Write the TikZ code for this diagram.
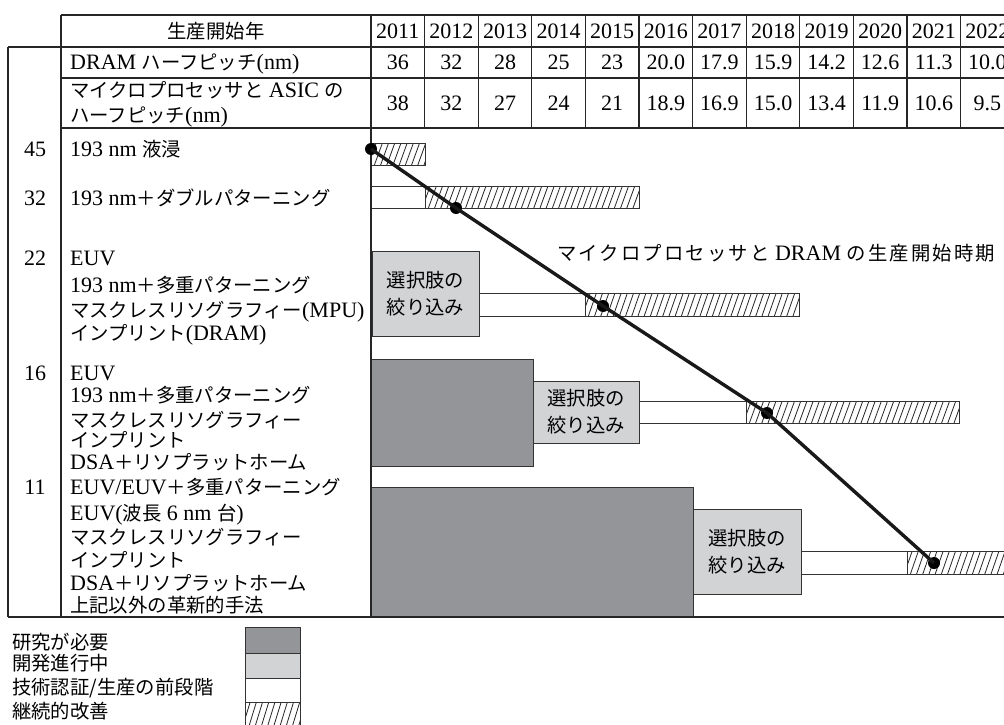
\documentclass[tikz,border=0pt]{standalone}
\usepackage{fontspec}
\setmainfont{Liberation Serif}
\newfontfamily\jp[Scale=0.88]{Noto Sans CJK JP}
\newfontfamily\jpw[Scale=0.88,LetterSpace=11]{Noto Sans CJK JP}
\newcommand\J[1]{{\jp #1}}
\definecolor{dk}{RGB}{148,149,153}
\definecolor{lt}{RGB}{210,211,213}
\tikzset{
 tl/.style={line width=1.1pt, draw=black!85},
 lbl/.style={anchor=base west, inner sep=0pt, font=\fontsize{22}{26}\selectfont},
 num/.style={anchor=base, inner sep=0pt, font=\fontsize{22}{26}\selectfont},
 barline/.style={draw=black!80, line width=0.8pt},
 hline/.style={line width=0.8pt, draw=black!85},
 darkbox/.style={draw=black!80, line width=0.8pt, fill=dk},
 choice/.style={draw=black!80, line width=0.8pt, fill=lt, align=center, inner sep=0pt, font=\fontsize{22}{27}\selectfont\jp},
 dot/.style={circle, fill=black, inner sep=0pt, minimum size=12pt},
 trend/.style={line width=3.4pt, draw=black!90}
}
\newcommand\hatchbar[4]{%
 \begin{scope}
 \clip (#1,#2) rectangle (#3,#4);
 \pgfmathtruncatemacro\hn{(#3-#1+14)/6.2}
 \foreach \k in {0,...,\hn}{\draw[hline] ({#1-9+\k*6.2},#4) -- ({#1-1+\k*6.2},#2);}
 \end{scope}
 \draw[barline] (#1,#2) rectangle (#3,#4);}
\begin{document}
\begin{tikzpicture}[x=1pt,y=-1pt]
\useasboundingbox (0,0) rectangle (1004,725);
\clip (0,0) rectangle (1004,725);
\fill[white] (0,0) rectangle (1004,725);

% dark boxes
\draw[darkbox] (371,359) rectangle (533,466);
\draw[darkbox] (371,487) rectangle (693,617);

% bars
\hatchbar{371}{143}{425}{165}
\draw[barline, fill=white] (371,186) rectangle (425,208);
\hatchbar{425}{186}{639}{208}
\draw[barline, fill=white] (479,293) rectangle (585,316);
\hatchbar{585}{293}{799}{316}
\draw[barline, fill=white] (639,401) rectangle (746,423);
\hatchbar{746}{401}{959}{423}
\draw[barline, fill=white] (801,551) rectangle (907,574);
\hatchbar{907}{551}{1014}{574}

% table lines
\draw[tl] (61,15) -- (1014,15);
\draw[tl] (8,47) -- (1014,47);
\draw[tl] (61,78) -- (1014,78);
\draw[tl] (61,128) -- (1014,128);
\draw[tl] (8,617) -- (1014,617);
\draw[tl] (8,47) -- (8,617);
\draw[tl] (61,15) -- (61,617);
\draw[tl] (371,15) -- (371,617);
\foreach \k in {1,...,12} \draw[tl] ({371+53.6*\k},15) -- ({371+53.6*\k},128);

% header
\node[num] (hdr) at (216,38.5) {\J{生産開始年}};
\foreach \yr [count=\k from 0] in {2011,2012,2013,2014,2015,2016,2017,2018,2019,2020,2021,2022}
  \node[num] (yr\k) at ({371+53.6*(\k+0.5)},38.5) {\yr};
\foreach \v [count=\k from 0] in {36,32,28,25,23,20.0,17.9,15.9,14.2,12.6,11.3,10.0}
  \node[num] (dr\k) at ({371+53.6*(\k+0.5)},69.5) {\v};
\foreach \v [count=\k from 0] in {38,32,27,24,21,18.9,16.9,15.0,13.4,11.9,10.6,9.5}
  \node[num] (mp\k) at ({371+53.6*(\k+0.5)},110.5) {\v};
\node[lbl] (r1) at (70,69.5) {DRAM \J{ハーフピッチ}(nm)};
\node[lbl] (r2a) at (70,97.5) {\J{マイクロプロセッサと} ASIC \J{の}};
\node[lbl] (r2b) at (70,122.5) {\J{ハーフピッチ}(nm)};

% left numbers
\node[num] (n45) at (35,156.5) {45};
\node[num] (n32) at (35,205.5) {32};
\node[num] (n22) at (35,265.5) {22};
\node[num] (n16) at (35,380.5) {16};
\node[num] (n11) at (35,494.5) {11};

% labels
\node[lbl] (a1) at (70,156.5) {193 nm \J{液浸}};
\node[lbl] (b1) at (70,205.5) {193 nm\J{＋ダブルパターニング}};
\node[lbl] (c1) at (70,265.5) {EUV};
\node[lbl] (c2) at (70,292.5) {193 nm\J{＋多重パターニング}};
\node[lbl] (c3) at (70,317.5) {\J{マスクレスリソグラフィー}(MPU)};
\node[lbl] (c4) at (70,340) {\J{インプリント}(DRAM)};
\node[lbl] (e1) at (70,380.5) {EUV};
\node[lbl] (e2) at (70,402.5) {193 nm\J{＋多重パターニング}};
\node[lbl] (e3) at (70,427.5) {\J{マスクレスリソグラフィー}};
\node[lbl] (e4) at (70,447.5) {\J{インプリント}};
\node[lbl] (e5) at (70,469.5) {DSA\J{＋リソプラットホーム}};
\node[lbl] (f1) at (70,494.5) {EUV/EUV\J{＋多重パターニング}};
\node[lbl] (f2) at (70,520.5) {EUV(\J{波長} 6 nm \J{台})};
\node[lbl] (f3) at (70,544.5) {\J{マスクレスリソグラフィー}};
\node[lbl] (f4) at (70,567.5) {\J{インプリント}};
\node[lbl] (f5) at (70,590.5) {DSA\J{＋リソプラットホーム}};
\node[lbl] (f6) at (70,612.5) {\J{上記以外の革新的手法}};

% choice boxes
\node[choice, minimum width=107pt, minimum height=85pt] (ch22) at (425.5,293.5) {選択肢の\\絞り込み};
\node[choice, minimum width=106pt, minimum height=62pt] (ch16) at (586,412) {選択肢の\\絞り込み};
\node[choice, minimum width=108pt, minimum height=85pt] (ch11) at (747,551.5) {選択肢の\\絞り込み};

% trend line
\node[dot] (d1) at (371,149) {};
\node[dot] (d2) at (456,208) {};
\node[dot] (d3) at (603,306) {};
\node[dot] (d4) at (767,413) {};
\node[dot] (d5) at (934,563) {};
\draw[trend] (d1.center) -- (d2.center) -- (d3.center) -- (d4.center) -- (d5.center);
\node[lbl] (ann) at (557,260.5) {{\jpw マイクロプロセッサと} DRAM {\jpw の生産開始時期}};

% legend
\draw[darkbox] (245,627) rectangle (300,653);
\draw[barline, fill=lt] (245,653) rectangle (300,678);
\draw[barline, fill=white] (245,678) rectangle (300,702);
\hatchbar{245}{702}{300}{728}
\node[lbl] (lg1) at (12,649) {\J{研究が必要}};
\node[lbl] (lg2) at (12,670) {\J{開発進行中}};
\node[lbl] (lg3) at (12,694) {\J{技術認証/生産の前段階}};
\node[lbl] (lg4) at (12,718) {\J{継続的改善}};
\end{tikzpicture}
\end{document}
